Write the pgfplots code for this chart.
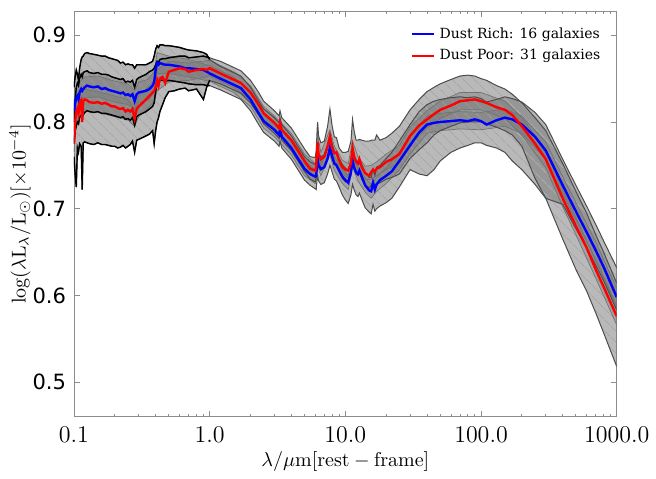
\documentclass[border=0pt]{standalone}
\usepackage{fontspec}
\usepackage{pgfplots}
\usepackage{pgfplotstable}
\pgfplotsset{compat=1.18}
\usepgfplotslibrary{fillbetween}
\usetikzlibrary{patterns.meta}
\newfontfamily\djsans{DejaVu Sans}
\newfontfamily\djserif{DejaVu Serif}

\pgfplotstableread{
x B blo bhi R rlo rhi
0.100 0.812 0.775 0.840 0.775 0.760 0.800
0.102 0.822 0.790 0.852 0.800 0.740 0.825
0.104 0.828 0.795 0.860 0.812 0.725 0.840
0.106 0.830 0.800 0.855 0.815 0.770 0.845
0.108 0.826 0.798 0.848 0.810 0.765 0.842
0.110 0.834 0.805 0.862 0.822 0.775 0.850
0.113 0.838 0.808 0.872 0.825 0.772 0.855
0.115 0.836 0.806 0.875 0.800 0.722 0.852
0.117 0.838 0.808 0.876 0.824 0.776 0.857
0.120 0.840 0.811 0.879 0.826 0.777 0.858
0.125 0.842 0.813 0.880 0.825 0.776 0.859
0.130 0.841 0.812 0.879 0.823 0.775 0.857
0.140 0.840 0.811 0.878 0.822 0.774 0.856
0.150 0.841 0.812 0.877 0.823 0.776 0.857
0.160 0.838 0.810 0.876 0.821 0.774 0.855
0.170 0.839 0.810 0.876 0.822 0.774 0.855
0.180 0.837 0.809 0.874 0.820 0.773 0.854
0.190 0.836 0.808 0.873 0.818 0.772 0.852
0.200 0.835 0.807 0.872 0.818 0.772 0.851
0.210 0.834 0.806 0.871 0.816 0.770 0.850
0.220 0.833 0.805 0.868 0.815 0.771 0.849
0.230 0.834 0.806 0.869 0.816 0.773 0.850
0.240 0.831 0.803 0.866 0.812 0.770 0.846
0.250 0.832 0.804 0.867 0.814 0.772 0.847
0.260 0.830 0.802 0.866 0.812 0.774 0.846
0.270 0.832 0.805 0.866 0.815 0.778 0.848
0.280 0.824 0.796 0.862 0.804 0.765 0.840
0.290 0.832 0.806 0.866 0.815 0.779 0.849
0.300 0.834 0.808 0.866 0.818 0.780 0.851
0.320 0.835 0.810 0.866 0.822 0.782 0.853
0.340 0.836 0.812 0.866 0.826 0.784 0.855
0.360 0.838 0.815 0.868 0.830 0.786 0.858
0.380 0.842 0.818 0.870 0.834 0.790 0.860
0.390 0.846 0.822 0.876 0.836 0.775 0.862
0.400 0.860 0.835 0.884 0.840 0.790 0.866
0.410 0.868 0.845 0.888 0.848 0.800 0.870
0.420 0.866 0.846 0.886 0.842 0.805 0.869
0.430 0.868 0.848 0.889 0.850 0.812 0.872
0.450 0.867 0.848 0.889 0.852 0.820 0.873
0.470 0.866 0.847 0.888 0.845 0.828 0.873
0.500 0.866 0.848 0.888 0.858 0.835 0.874
0.550 0.865 0.847 0.887 0.860 0.836 0.875
0.600 0.864 0.846 0.886 0.862 0.838 0.876
0.660 0.862 0.845 0.884 0.861 0.839 0.876
0.700 0.862 0.844 0.883 0.858 0.836 0.874
0.800 0.861 0.843 0.882 0.860 0.838 0.875
0.900 0.860 0.843 0.880 0.861 0.826 0.876
0.950 0.858 0.842 0.878 0.860 0.840 0.875
1.000 0.856 0.842 0.872 0.862 0.848 0.874
1.200 0.850 0.837 0.864 0.856 0.844 0.870
1.500 0.843 0.830 0.857 0.849 0.837 0.863
1.700 0.839 0.826 0.853 0.845 0.833 0.859
2.000 0.826 0.813 0.840 0.834 0.822 0.848
2.300 0.810 0.797 0.824 0.820 0.808 0.834
2.500 0.801 0.788 0.815 0.810 0.798 0.824
3.000 0.791 0.778 0.805 0.799 0.787 0.813
3.250 0.785 0.772 0.799 0.793 0.781 0.807
3.300 0.791 0.778 0.805 0.799 0.787 0.813
3.400 0.783 0.770 0.797 0.791 0.779 0.805
4.000 0.770 0.757 0.784 0.779 0.767 0.793
5.000 0.746 0.733 0.760 0.755 0.743 0.769
5.500 0.740 0.727 0.754 0.746 0.734 0.760
6.000 0.737 0.723 0.751 0.744 0.731 0.759
6.100 0.738 0.722 0.752 0.748 0.735 0.766
6.200 0.752 0.735 0.768 0.770 0.755 0.792
6.250 0.757 0.738 0.772 0.777 0.760 0.800
6.350 0.750 0.732 0.764 0.762 0.748 0.784
6.600 0.746 0.728 0.760 0.757 0.744 0.776
7.000 0.748 0.730 0.762 0.760 0.747 0.778
7.400 0.758 0.740 0.773 0.772 0.758 0.795
7.700 0.770 0.750 0.786 0.783 0.768 0.815
8.000 0.760 0.742 0.775 0.770 0.757 0.795
8.300 0.752 0.734 0.766 0.764 0.751 0.783
8.600 0.750 0.732 0.764 0.765 0.752 0.782
9.000 0.744 0.725 0.758 0.756 0.743 0.770
9.500 0.737 0.716 0.751 0.748 0.735 0.765
10.00 0.733 0.710 0.747 0.745 0.731 0.765
10.50 0.730 0.706 0.744 0.744 0.730 0.766
11.00 0.742 0.716 0.756 0.752 0.738 0.778
11.30 0.756 0.728 0.771 0.770 0.754 0.803
11.60 0.748 0.722 0.762 0.760 0.746 0.790
12.00 0.742 0.716 0.756 0.754 0.740 0.779
12.40 0.740 0.714 0.754 0.752 0.738 0.779
12.70 0.744 0.718 0.758 0.757 0.743 0.780
13.20 0.737 0.711 0.751 0.748 0.734 0.779
14.00 0.727 0.701 0.742 0.741 0.727 0.778
15.00 0.721 0.696 0.736 0.738 0.724 0.778
15.50 0.720 0.694 0.736 0.742 0.727 0.779
16.00 0.730 0.705 0.746 0.745 0.730 0.779
16.50 0.722 0.697 0.738 0.743 0.728 0.779
17.00 0.728 0.700 0.748 0.746 0.728 0.785
18.00 0.733 0.703 0.750 0.748 0.730 0.779
20.00 0.738 0.707 0.758 0.754 0.734 0.782
22.00 0.743 0.712 0.765 0.757 0.736 0.787
25.00 0.755 0.725 0.778 0.763 0.740 0.795
30.00 0.773 0.745 0.797 0.784 0.758 0.814
35.00 0.788 0.740 0.812 0.796 0.768 0.826
40.00 0.797 0.738 0.820 0.803 0.776 0.835
45.00 0.799 0.745 0.824 0.809 0.785 0.840
50.00 0.800 0.755 0.826 0.814 0.790 0.844
60.00 0.801 0.765 0.828 0.819 0.795 0.849
70.00 0.802 0.770 0.829 0.824 0.799 0.853
80.00 0.801 0.773 0.828 0.825 0.800 0.854
90.00 0.803 0.776 0.829 0.826 0.800 0.853
100.0 0.801 0.776 0.827 0.824 0.800 0.850
110.0 0.797 0.773 0.823 0.822 0.798 0.848
130.0 0.802 0.770 0.826 0.817 0.794 0.842
150.0 0.805 0.765 0.829 0.814 0.790 0.838
170.0 0.803 0.755 0.827 0.808 0.785 0.832
200.0 0.797 0.745 0.823 0.795 0.772 0.822
250.0 0.783 0.728 0.811 0.775 0.735 0.805
300.0 0.767 0.712 0.797 0.757 0.712 0.790
400.0 0.727 0.705 0.757 0.712 0.665 0.752
500.0 0.697 0.677 0.727 0.680 0.630 0.720
600.0 0.673 0.655 0.703 0.655 0.605 0.695
700.0 0.652 0.635 0.682 0.630 0.580 0.670
800.0 0.633 0.617 0.663 0.610 0.557 0.650
1000. 0.598 0.583 0.632 0.576 0.518 0.614
}\sed

\pgfplotstableread{
x bil bih ril rih
0.100 0.800 0.824 0.765 0.790
0.105 0.818 0.842 0.803 0.827
0.110 0.822 0.846 0.810 0.834
0.120 0.828 0.852 0.814 0.838
0.150 0.829 0.853 0.811 0.835
0.200 0.823 0.847 0.806 0.830
0.250 0.820 0.844 0.802 0.826
0.280 0.814 0.836 0.795 0.815
0.300 0.822 0.846 0.806 0.830
0.350 0.825 0.849 0.816 0.840
0.390 0.834 0.858 0.824 0.848
0.410 0.856 0.880 0.836 0.860
0.500 0.856 0.876 0.846 0.870
0.700 0.852 0.872 0.848 0.868
1.000 0.847 0.865 0.853 0.871
1.500 0.834 0.852 0.840 0.858
2.000 0.818 0.834 0.826 0.842
2.500 0.793 0.809 0.802 0.818
3.000 0.783 0.799 0.791 0.807
4.000 0.762 0.778 0.771 0.787
5.000 0.738 0.754 0.747 0.763
6.000 0.729 0.745 0.736 0.752
6.250 0.749 0.765 0.769 0.785
6.600 0.738 0.754 0.749 0.765
7.700 0.762 0.778 0.775 0.791
8.300 0.744 0.760 0.756 0.772
9.500 0.729 0.745 0.740 0.756
10.50 0.722 0.738 0.736 0.752
11.30 0.748 0.764 0.762 0.778
12.40 0.732 0.748 0.744 0.760
14.00 0.719 0.735 0.733 0.749
15.50 0.712 0.728 0.734 0.750
17.00 0.720 0.736 0.738 0.754
20.00 0.729 0.747 0.745 0.763
25.00 0.745 0.765 0.753 0.773
30.00 0.763 0.783 0.774 0.794
40.00 0.787 0.807 0.793 0.813
50.00 0.790 0.810 0.804 0.824
70.00 0.792 0.812 0.814 0.834
100.0 0.791 0.811 0.814 0.834
150.0 0.795 0.815 0.804 0.824
200.0 0.787 0.807 0.785 0.805
300.0 0.757 0.777 0.747 0.767
400.0 0.717 0.737 0.702 0.722
500.0 0.687 0.707 0.670 0.690
700.0 0.642 0.662 0.620 0.640
1000. 0.588 0.608 0.566 0.586
}\inner

\begin{document}
\begin{tikzpicture}
\begin{axis}[
  name=ax,
  scale only axis,
  width=271.5pt, height=203pt,
  xmode=log,
  xmin=0.1, xmax=1000,
  ymin=0.46, ymax=0.928,
  xtick={0.1,1,10,100,1000},
  xticklabels={$0.1$,$1.0$,$10.0$,$100.0$,$1000.0$},
  ytick={0.5,0.6,0.7,0.8,0.9},
  yticklabels={0.5,0.6,0.7,0.8,0.9},
  xticklabel style={font=\fontsize{11.7}{14}\selectfont, yshift=-1.5pt, text depth=0pt},
  yticklabel style={font=\djsans\fontsize{10.5}{12}\selectfont, xshift=-0.5pt},
  axis line style={draw=black!45},
  major tick length=3pt,
  minor tick length=1.5pt,
  every tick/.style={black!45},
  xlabel={$\lambda/\mu\mathrm{m}[\mathrm{rest-frame}]$},
  ylabel={$\log(\lambda\mathrm{L}_\lambda/\mathrm{L}_\odot)[\times10^{-4}]$},
  label style={font=\fontsize{10}{12}\selectfont},
  x label style={at={(axis description cs:0.5,0)}, anchor=center, yshift=-22.5pt},
  y label style={at={(axis description cs:-0.0994,0.5)}, anchor=center},
  legend style={draw=none, fill=none, at={(1,1)}, anchor=north east,
    xshift=-3pt, yshift=-4pt,
    font=\djserif\fontsize{7}{8.4}\selectfont, row sep=0pt},
  legend cell align=left,
  legend image code/.code={\draw[#1] (0pt,0pt) -- (11pt,0pt);},
]
% outer bands
\addplot[name path=bhi, draw=none, forget plot] table[x=x,y=bhi]{\sed};
\addplot[name path=blo, draw=none, forget plot] table[x=x,y=blo]{\sed};
\addplot[name path=rhi, draw=none, forget plot] table[x=x,y=rhi]{\sed};
\addplot[name path=rlo, draw=none, forget plot] table[x=x,y=rlo]{\sed};
\addplot[fill=black!55, fill opacity=0.5, draw=none, forget plot] fill between[of=bhi and blo];
\addplot[fill=black!55, fill opacity=0.5, draw=none, forget plot] fill between[of=rhi and rlo];
\addplot[pattern={Lines[angle=-45, distance=4pt, line width=0.35pt]}, pattern color=black!35, draw=none, forget plot] fill between[of=bhi and blo];
\addplot[pattern={Lines[angle=-45, distance=4pt, line width=0.35pt]}, pattern color=black!35, draw=none, forget plot] fill between[of=rhi and rlo];
% inner bands
\addplot[name path=bih, draw=none, forget plot] table[x=x,y=bih]{\inner};
\addplot[name path=bil, draw=none, forget plot] table[x=x,y=bil]{\inner};
\addplot[name path=rih, draw=none, forget plot] table[x=x,y=rih]{\inner};
\addplot[name path=ril, draw=none, forget plot] table[x=x,y=ril]{\inner};
\addplot[fill=black!55, fill opacity=0.35, draw=none, forget plot] fill between[of=bih and bil];
\addplot[fill=black!55, fill opacity=0.35, draw=none, forget plot] fill between[of=rih and ril];
\addplot[black!55, line width=0.35pt, forget plot] table[x=x,y=bih]{\inner};
\addplot[black!55, line width=0.35pt, forget plot] table[x=x,y=bil]{\inner};
\addplot[black!55, line width=0.35pt, forget plot] table[x=x,y=rih]{\inner};
\addplot[black!55, line width=0.35pt, forget plot] table[x=x,y=ril]{\inner};
% outer edges
\addplot[black!70, line width=0.5pt, forget plot] table[x=x,y=bhi]{\sed};
\addplot[black!70, line width=0.5pt, forget plot] table[x=x,y=blo]{\sed};
\addplot[black!70, line width=0.5pt, forget plot] table[x=x,y=rhi]{\sed};
\addplot[black!70, line width=0.5pt, forget plot] table[x=x,y=rlo]{\sed};
% heavier black noisy edges in the UV/optical part
\addplot[black, line width=0.7pt, forget plot, skip coords between index={49}{500}] table[x=x,y=bhi]{\sed};
\addplot[black, line width=0.7pt, forget plot, skip coords between index={49}{500}] table[x=x,y=blo]{\sed};
\addplot[black, line width=0.7pt, forget plot, skip coords between index={49}{500}] table[x=x,y=rhi]{\sed};
\addplot[black, line width=0.7pt, forget plot, skip coords between index={49}{500}] table[x=x,y=rlo]{\sed};
% medians
\addplot[blue, line width=1.2pt] table[x=x,y=B]{\sed};
\addlegendentry{Dust Rich: 16 galaxies}
\addplot[red, line width=1.2pt] table[x=x,y=R]{\sed};
\addlegendentry{Dust Poor: 31 galaxies}
\end{axis}
\path ([xshift=-37pt,yshift=-24pt]ax.south west) rectangle ([xshift=19.5pt,yshift=5.5pt]ax.north east);
\end{tikzpicture}
\end{document}
